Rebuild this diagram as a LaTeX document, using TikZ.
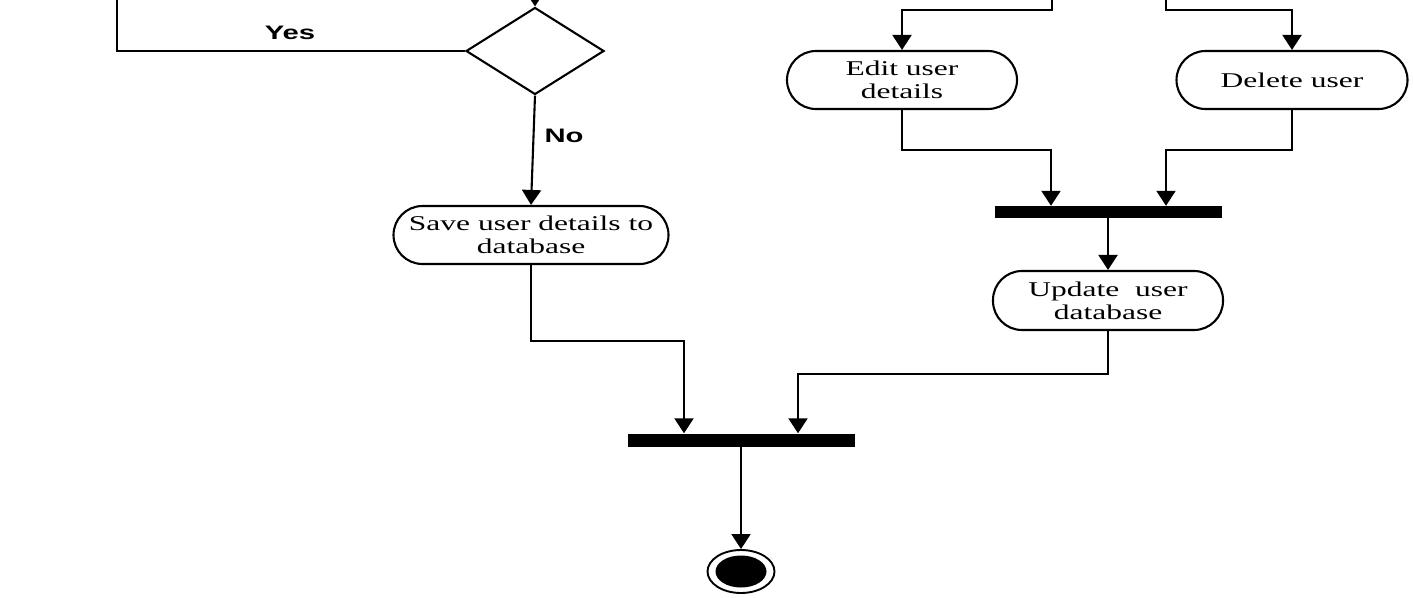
\documentclass[tikz,border=0pt]{standalone}
\usepackage{fontspec}
\setmainfont[FakeStretch=1.5]{Liberation Serif}
\newfontfamily\labelfont[FakeStretch=1.5]{Liberation Sans}
\usetikzlibrary{arrows.meta,shapes.geometric}

\tikzset{
  activity/.style={draw, line width=2.1pt, rounded corners=29pt, minimum width=230pt,
    minimum height=58pt, inner sep=0pt, align=center, font=\fontsize{21}{23}\selectfont},
  bar/.style={fill=black, minimum width=227pt, minimum height=13pt, inner sep=0pt},
  flow/.style={line width=2.1pt, -{Triangle[width=19pt,length=15pt]}},
  guard/.style={font=\labelfont\bfseries\fontsize{19.5}{22}\selectfont}
}

\begin{document}
\begin{tikzpicture}[x=1pt, y=-1pt]
\clip (0,0) rectangle (1413,597);

% left branch
\node [draw, diamond, line width=2.1pt, aspect=1.59, minimum width=138pt, minimum height=87pt, inner sep=0pt] (decision) at (535,51) {};
\node [activity, minimum width=275pt] (save) at (531,235) {Save user details to\\database};

% right branch
\node [activity] (edit) at (902,80) {Edit user\\details};
\node [activity, minimum width=231pt] (delete) at (1292,80) {Delete user};
\node [bar, minimum height=12pt] (join1) at (1108,212) {};
\node [activity, minimum height=59pt] (update) at (1108,300.5) {Update\ \ user\\database};

% end
\node [bar] (join2) at (741,440) {};
\node [draw, ellipse, line width=1.9pt, minimum width=67pt, minimum height=43pt, inner sep=0pt] (final) at (741,571.5) {};
\node [fill=black, ellipse, minimum width=51pt, minimum height=32pt, inner sep=0pt] (finaldot) at (final.center) {};

\coordinate (inDecision) at (535,-10);
\coordinate (loopBack) at (117,-10);
\coordinate (inEdit) at (1052,-10);
\coordinate (inDelete) at (1166,-10);

\draw [flow] (inDecision) -- (decision.north);
\draw [line width=2.1pt] (decision.west) -| (loopBack);
\node [guard] (yes) at (290,33) {Yes};
\draw [flow] (decision.south) -- (save.north);
\node [guard] (no) at (564,136) {No};

\draw [flow] (inEdit) -- (1052,10) -| (edit.north);
\draw [flow] (inDelete) -- (1166,10) -| (delete.north);
\draw [flow] (edit.south) -- ++(0,40) -| ([xshift=-57pt]join1.north);
\draw [flow] (delete.south) -- ++(0,40) -| ([xshift=58pt]join1.north);
\draw [flow] (join1.south) -- (update.north);

\draw [flow] (save.south) -- ++(0,76) -| ([xshift=-57pt]join2.north);
\draw [flow] (update.south) -- ++(0,43) -| ([xshift=57pt]join2.north);
\draw [flow] (join2.south) -- (final.north);

\end{tikzpicture}
\end{document}
